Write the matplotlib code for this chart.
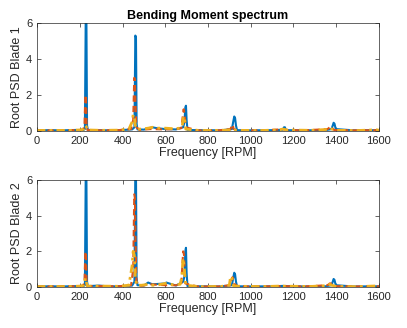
import numpy as np
import matplotlib
matplotlib.use('Agg')
import matplotlib.pyplot as plt

plt.rcParams['font.family'] = ['Liberation Sans', 'DejaVu Sans']

# Blade 1 spectra (frequency in RPM, root PSD)
b1_blue_f = [0, 60, 120, 180, 215, 224, 228, 231, 234, 238, 280, 340, 400, 445, 456, 460, 463, 466, 470, 500, 540, 560, 600, 650, 684, 690, 694, 697, 700, 704, 760, 860, 912, 918, 923, 927, 931, 936, 1000, 1100, 1150, 1156, 1160, 1165, 1250, 1350, 1378, 1384, 1388, 1392, 1398, 1480, 1600]
b1_blue_v = [0.03, 0.04, 0.03, 0.05, 0.04, 0.1, 6.5, 6.3, 0.3, 0.05, 0.04, 0.03, 0.05, 0.08, 0.2, 5.3, 5.2, 0.4, 0.08, 0.07, 0.2, 0.15, 0.1, 0.08, 0.2, 0.5, 1.3, 1.4, 0.6, 0.05, 0.04, 0.03, 0.1, 0.5, 0.8, 0.7, 0.3, 0.04, 0.03, 0.04, 0.06, 0.2, 0.2, 0.04, 0.03, 0.04, 0.1, 0.3, 0.45, 0.4, 0.1, 0.03, 0.04]
b1_red_f = [0, 80, 160, 210, 222, 226, 229, 232, 236, 300, 380, 440, 450, 455, 458, 461, 465, 480, 530, 600, 650, 675, 682, 686, 690, 696, 750, 850, 905, 912, 916, 920, 940, 1050, 1140, 1155, 1162, 1250, 1360, 1370, 1376, 1382, 1390, 1480, 1600]
b1_red_v = [0.02, 0.03, 0.04, 0.05, 0.2, 2.0, 1.8, 0.3, 0.05, 0.03, 0.04, 0.1, 0.6, 2.95, 2.8, 1.5, 0.2, 0.05, 0.1, 0.08, 0.1, 0.15, 0.8, 1.2, 1.0, 0.2, 0.03, 0.03, 0.1, 0.3, 0.35, 0.1, 0.03, 0.03, 0.08, 0.1, 0.05, 0.03, 0.1, 0.2, 0.25, 0.15, 0.05, 0.03, 0.04]
b1_yel_f = [0, 70, 140, 200, 220, 226, 230, 236, 300, 380, 430, 445, 450, 455, 460, 466, 490, 520, 540, 560, 600, 640, 670, 680, 685, 690, 696, 760, 860, 900, 908, 914, 930, 1050, 1130, 1150, 1170, 1280, 1360, 1372, 1380, 1400, 1500, 1590, 1600]
b1_yel_v = [0.02, 0.03, 0.02, 0.05, 0.1, 0.3, 0.25, 0.05, 0.03, 0.04, 0.1, 0.5, 0.9, 0.8, 0.3, 0.1, 0.1, 0.15, 0.2, 0.15, 0.15, 0.12, 0.15, 0.3, 0.8, 0.7, 0.1, 0.02, 0.03, 0.05, 0.1, 0.05, 0.03, 0.02, 0.05, 0.1, 0.05, 0.03, 0.08, 0.15, 0.1, 0.03, 0.02, 0.06, 0.03]

# Blade 2 spectra
b2_blue_f = [0, 60, 120, 180, 215, 224, 228, 231, 234, 238, 290, 340, 400, 445, 456, 460, 463, 466, 470, 500, 520, 540, 600, 605, 650, 684, 690, 694, 697, 700, 704, 760, 860, 912, 918, 923, 927, 931, 936, 1000, 1100, 1150, 1250, 1350, 1378, 1384, 1388, 1392, 1398, 1480, 1600]
b2_blue_v = [0.03, 0.04, 0.03, 0.05, 0.04, 0.1, 6.5, 6.3, 0.3, 0.05, 0.08, 0.03, 0.05, 0.08, 0.3, 6.5, 6.4, 0.5, 0.1, 0.08, 0.25, 0.15, 0.2, 0.25, 0.08, 0.3, 0.6, 2.0, 2.2, 0.8, 0.05, 0.04, 0.03, 0.1, 0.5, 0.8, 0.7, 0.3, 0.04, 0.03, 0.04, 0.06, 0.03, 0.04, 0.1, 0.3, 0.45, 0.4, 0.1, 0.03, 0.04]
b2_red_f = [0, 80, 160, 210, 222, 226, 229, 232, 236, 300, 380, 440, 450, 455, 458, 461, 465, 480, 530, 600, 650, 675, 680, 684, 688, 694, 750, 850, 905, 910, 915, 920, 940, 1050, 1140, 1250, 1360, 1370, 1376, 1382, 1390, 1480, 1600]
b2_red_v = [0.02, 0.03, 0.04, 0.05, 0.2, 2.0, 1.8, 0.3, 0.05, 0.05, 0.04, 0.1, 1.0, 5.2, 5.0, 2.5, 0.3, 0.05, 0.15, 0.1, 0.1, 0.15, 1.2, 2.0, 1.8, 0.2, 0.03, 0.03, 0.1, 0.4, 0.55, 0.2, 0.03, 0.03, 0.05, 0.03, 0.1, 0.2, 0.2, 0.15, 0.05, 0.03, 0.04]
b2_yel_f = [0, 70, 140, 200, 220, 226, 230, 236, 300, 380, 430, 445, 450, 455, 460, 466, 490, 520, 540, 560, 600, 640, 670, 678, 683, 688, 696, 760, 860, 900, 906, 912, 920, 1050, 1130, 1280, 1360, 1370, 1380, 1400, 1500, 1590, 1600]
b2_yel_v = [0.02, 0.03, 0.02, 0.05, 0.1, 0.5, 0.3, 0.05, 0.05, 0.04, 0.1, 1.2, 2.0, 1.8, 0.6, 0.1, 0.1, 0.15, 0.1, 0.1, 0.2, 0.12, 0.15, 0.6, 1.6, 1.2, 0.1, 0.02, 0.03, 0.1, 0.6, 0.5, 0.05, 0.02, 0.05, 0.03, 0.08, 0.15, 0.1, 0.03, 0.02, 0.06, 0.03]

blue, red, yel = '#0072BD', '#D95319', '#EDB120'

panels = [
    ('Root PSD Blade 1', (b1_blue_f, b1_blue_v), (b1_red_f, b1_red_v), (b1_yel_f, b1_yel_v)),
    ('Root PSD Blade 2', (b2_blue_f, b2_blue_v), (b2_red_f, b2_red_v), (b2_yel_f, b2_yel_v)),
]

fig = plt.figure(figsize=(4.07, 3.28), dpi=100)
axes = [fig.add_axes([0.091, 0.601, 0.84, 0.329]),
        fig.add_axes([0.091, 0.125, 0.84, 0.326])]

for ax, (ylab, b, r, y) in zip(axes, panels):
    ax.plot(b[0], b[1], color=blue, lw=1.5)
    ax.plot(r[0], r[1], color=red, lw=1.5, ls=(0, (3, 2)))
    ax.plot(y[0], y[1], color=yel, lw=2.0, ls=(0, (3, 1.5, 1, 1.5)))
    ax.set_xlim(0, 1600)
    ax.set_ylim(0, 6)
    ax.set_xticks(np.arange(0, 1601, 200))
    ax.set_yticks([0, 2, 4, 6])
    ax.tick_params(direction='in', top=True, right=True, labelsize=8,
                   length=3, width=0.5, colors='#262626')
    for s in ax.spines.values():
        s.set_linewidth(0.5)
        s.set_color('#262626')
    ax.set_ylabel(ylab, fontsize=9, color='#262626', labelpad=2)
    ax.set_xlabel('Frequency [RPM]', fontsize=9, color='#262626', labelpad=1)

axes[0].set_title('Bending Moment spectrum', fontsize=9, fontweight='bold', pad=3)

fig.savefig('out.png', dpi=100)
